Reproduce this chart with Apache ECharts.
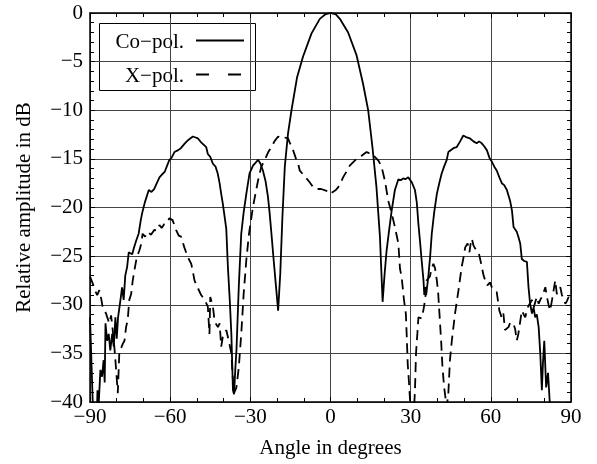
<!DOCTYPE html>
<html>
<head>
<meta charset="utf-8">
<script src="https://cdn.jsdelivr.net/npm/echarts@6/dist/echarts.min.js"></script>
<style>
  html, body { margin: 0; padding: 0; background: #fff; }
  #chart { width: 597px; height: 464px; }
</style>
</head>
<body>
<div id="chart"></div>
<script>
// co-polar pattern (solid)
const coAngles = [-90, -89.6, -89, -88.5, -87.5, -87.2, -86.8, -86.1, -85.5, -84.9, -84.5, -84.2, -83.6, -83, -82.4, -81.7, -81.1, -80.5, -80, -79.5,
  -78.6, -78, -77.4, -76.8, -76.1, -75.5, -74.9, -74.2, -73.6, -72.7, -71.8, -71, -70.5, -69.5, -69, -68, -67, -66, -65, -64,
  -63, -62, -61.5, -60.3, -59.5, -58.4, -57, -56, -55.3, -54.5, -53.4, -52.5, -51.5, -50.5, -49.6, -48.4, -47.8, -46.5, -45.9, -45,
  -44, -43, -42.2, -41.5, -40.9, -40.3, -39.6, -39, -38.4, -37.7, -37.1, -36.5, -36.1, -35.6, -35.2, -34.3, -33.4, -32.5, -31.5, -30.3,
  -29, -27.1, -26.2, -25.3, -24.3, -23.4, -22.8, -22.1, -21.3, -20.5, -19.6, -18.8, -18, -17.1, -15.9, -14.6, -12.5, -10.3, -7.1, -4,
  -2, 0, 2, 3.5, 6.6, 9.7, 12.2, 14.1, 15.7, 17.2, 18.5, 19.5, 20.2, 21, 22, 22.9, 24.1, 25.4, 26.3, 27.2,
  28, 29.1, 30.4, 31.6, 32.3, 32.9, 33.5, 34.1, 34.8, 35.1, 35.4, 35.8, 36.6, 37.3, 37.9, 38.8, 39.8, 40.7, 41.6, 42.5,
  43.5, 44.1, 44.7, 46, 47.2, 48.5, 49.7, 51, 52.2, 53.5, 54.7, 55.6, 56.6, 57.5, 58.5, 59.5, 60.4, 61.3, 62.2, 63.2,
  64.1, 65, 66, 67.2, 67.9, 68.5, 69.7, 70.3, 71, 71.6, 72.5, 73.5, 74.1, 74.7, 75.4, 76, 76.6, 77.2, 77.9, 78.5,
  79.1, 79.5, 80, 80.7, 81.4, 82, 82.5, 90];
const coValues = [-31.3, -34.7, -39.8, -42, -42, -38.8, -40.5, -36.7, -37.4, -35.7, -38, -31.9, -33.7, -33, -34.7, -33, -34.3, -31.3, -33.5, -31.3,
  -29.5, -28.2, -29.5, -27, -26.1, -24.6, -24.4, -24.8, -24.2, -23.4, -22.7, -21.3, -20.6, -19.5, -19.3, -18.2, -18.4, -18.1, -17.5, -16.9,
  -16.6, -16.3, -16.2, -15.1, -14.9, -14.3, -14.1, -13.9, -13.8, -13.4, -13.1, -12.9, -12.7, -12.8, -12.9, -13.3, -13.3, -13.8, -14.5, -14.8,
  -15.5, -15.8, -16.5, -17.5, -18.6, -19.6, -21, -22.2, -26.1, -29.5, -33, -38.8, -39.2, -36.5, -34.7, -28, -22.7, -20.5, -18.6, -16.5,
  -15.7, -15.1, -15.5, -16.2, -17.3, -18.9, -20.5, -22.7, -25.3, -27.8, -30.6, -26.8, -21, -15.8, -12.4, -10, -6.6, -4.5, -2.1, -0.6,
  -0.15, 0, -0.15, -0.6, -2, -4.3, -7.3, -10, -13.8, -17.9, -23, -29.7, -27, -24.4, -22.2, -20.3, -18.2, -17.1, -17.2, -17,
  -17.1, -16.9, -17.4, -18.2, -19.5, -21.7, -23.5, -25.4, -27.5, -29, -28.2, -29, -27.1, -25, -22.7, -20.5, -18.6, -17.5, -16.5, -15.8,
  -15.1, -14.3, -14.3, -13.9, -13.8, -13.2, -12.6, -12.8, -12.9, -13.2, -13.4, -13.2, -13.4, -13.7, -14.1, -14.9, -15.3, -15.8, -16.2, -16.9,
  -17.5, -17.7, -18.2, -19.3, -20.3, -22, -22.5, -23, -23.7, -25.3, -25.5, -25.6, -28.2, -29.9, -30.9, -30.3, -31.3, -31, -32.3, -35,
  -38.8, -36, -33.7, -38.5, -37, -39.8, -42, -42];

// cross-polar pattern (dashed)
const xAngles = [-90, -89.5, -89, -88, -87.3, -86.5, -85.8, -85.3, -84.6, -84, -83.4, -82.8, -82.1, -81.5, -80.9, -80.3, -79.6, -79, -78.3, -77.7,
  -77.1, -76.5, -75.9, -75.3, -74.6, -74, -73.4, -72.5, -71.5, -70.9, -70.3, -69.4, -68.4, -67.2, -65.9, -64.9, -64, -63.2, -62.2, -61.2,
  -60.3, -59.1, -57.8, -56.8, -55.9, -54.7, -53.4, -52.1, -51.5, -50.9, -49.6, -48.4, -47.1, -45.9, -45.3, -45, -44, -43.4, -42.8, -42.1,
  -41.5, -40.9, -40.3, -39.7, -39, -38, -37.1, -36.5, -36.1, -35.2, -34.3, -33.4, -32.5, -31.5, -30.5, -29, -27.1, -25.9, -24.6, -23.3,
  -22.1, -21, -19.6, -18.4, -17.2, -15.9, -15.3, -14, -12.9, -12.1, -11.5, -10.9, -9, -7.8, -6.5, -5.2, -3.5, -1.5, -0.5, 0.3,
  1, 2, 2.9, 3.8, 4.7, 6, 7.2, 7.9, 9.7, 11.5, 13.5, 14.5, 15.4, 16.6, 18, 19.1, 20.4, 21.6, 22.9, 24.1,
  25.4, 26, 26.6, 27.5, 28.2, 28.5, 28.9, 29.4, 29.9, 31, 31.6, 32, 32.5, 32.9, 33.5, 34.1, 34.8, 35.4, 36, 36.6,
  37.2, 37.8, 38.5, 39.1, 39.8, 40.3, 40.7, 41.4, 41.9, 42.5, 42.9, 43.5, 44.1, 44.7, 45.4, 46, 46.6, 47.3, 47.9, 48.5,
  49.1, 49.8, 50.4, 51.3, 52, 52.5, 52.9, 53.5, 54.1, 54.7, 55.4, 56, 56.6, 57.3, 57.9, 58.7, 59.7, 60.5, 61.3, 62.2,
  63.2, 63.7, 64.1, 64.7, 65.3, 66, 66.6, 67.3, 67.9, 68.5, 69.1, 69.7, 70.3, 71, 71.6, 72.3, 72.9, 73.5, 74.1, 74.8,
  75.4, 76, 76.6, 77.2, 77.9, 78.5, 79.4, 80.4, 81, 81.6, 82.2, 82.9, 83.5, 84.1, 84.7, 85.4, 86, 86.6, 87.3, 87.9,
  88.5, 89.1, 90];
const xValues = [-27.1, -27.3, -27.8, -28.6, -29, -28.5, -29.4, -30.2, -30.6, -30.9, -31.4, -31.9, -31.1, -32.6, -34.3, -36.4, -39.1, -34.7, -34.4, -34,
  -33.7, -32.3, -31.6, -29.5, -28.9, -27.5, -26.5, -25.1, -24.4, -23.8, -22.7, -23, -22.5, -22.8, -22.3, -22.4, -21.8, -22.1, -21.7, -21.6,
  -21.1, -21.3, -22.3, -22.9, -23, -24.1, -25.1, -25.8, -26.6, -27.5, -28.3, -29, -29.5, -30.2, -33, -29.2, -30.2, -31.6, -32, -32.3,
  -31.9, -34.3, -33.3, -33.5, -32.6, -33.8, -35, -37.8, -39.1, -38.5, -36.4, -33, -28.9, -25.4, -22.7, -19.9, -17.2, -15.8, -15.1, -14.3,
  -13.8, -13.2, -12.7, -12.9, -12.8, -12.9, -13.3, -14.1, -15, -15.5, -16.2, -16.3, -17, -17.4, -17.9, -18.1, -18.1, -18.3, -18.6, -18.5,
  -18.4, -18.2, -17.9, -17.5, -16.9, -16.3, -15.7, -15.6, -15, -14.7, -14.3, -14.4, -14.4, -14.8, -15.2, -15.8, -17.3, -19.3, -20.6, -22,
  -23.7, -26.3, -27.1, -29.5, -30.9, -33, -36.1, -38.1, -40.5, -42, -38.9, -35, -33, -31.3, -31.5, -31.4, -30.5, -29.5, -27.5, -27.3,
  -27.1, -26.3, -25.8, -26.2, -27.5, -28.8, -30.6, -33.7, -36.4, -38.4, -39.3, -40.5, -39.1, -35.7, -33.7, -32.3, -30.9, -29.6, -28.5, -27.3,
  -26.1, -25.1, -24.1, -23.7, -24.6, -23.6, -23.2, -23.9, -24.2, -24.4, -24.6, -25.3, -26.1, -27, -27.5, -28, -27.7, -28.3, -28.5, -28.7,
  -30.6, -31, -31.4, -30.9, -32.6, -32.4, -32.3, -31.8, -31.6, -32, -32.5, -33.7, -33, -31.7, -30.6, -31, -31.3, -30.5, -30.1, -29.8,
  -29.5, -30.3, -30.1, -29.2, -29.9, -29.5, -29, -28.2, -29.2, -30, -30.6, -29.5, -28.5, -27.5, -28.9, -28.5, -28.2, -29, -29.5, -29.9,
  -29.6, -29.2, -29.5];

const xTicks = { min: -90, max: 90, interval: 30 };
const yTicks = { min: -40, max: 0, interval: 5 };

const font = '"Liberation Serif", "Times New Roman", serif';
const minus = v => String(v).replace('-', '\u2212');

const chart = echarts.init(document.getElementById('chart'));

const baseX = {
  type: 'value',
  min: xTicks.min,
  max: xTicks.max,
  interval: xTicks.interval,
  axisLine: { show: true, onZero: false, lineStyle: { color: '#000', width: 1.5 } },
  axisTick: { show: true, inside: true, length: 5, lineStyle: { color: '#000' } },
  minorTick: { show: true, splitNumber: 3, length: 4, lineStyle: { color: '#000' } },
  splitLine: { show: false }
};
const baseY = {
  type: 'value',
  min: yTicks.min,
  max: yTicks.max,
  interval: yTicks.interval,
  axisLine: { show: true, onZero: false, lineStyle: { color: '#000', width: 1.5 } },
  axisTick: { show: true, inside: true, length: 5, lineStyle: { color: '#000' } },
  minorTick: { show: true, splitNumber: 5, length: 4, lineStyle: { color: '#000' } },
  splitLine: { show: false }
};

const options = {
  animation: false,
  backgroundColor: '#fff',
  grid: { left: 90, right: 26, top: 13, bottom: 62, containLabel: false, outerBoundsMode: 'none' },
  xAxis: [
    Object.assign({}, baseX, {
      position: 'bottom',
      splitLine: { show: true, lineStyle: { color: '#444', width: 1 } },
      axisLabel: { color: '#000', fontFamily: font, fontSize: 21, margin: 5, formatter: minus },
      name: 'Angle in degrees',
      nameLocation: 'middle',
      nameGap: 36,
      nameTextStyle: { color: '#000', fontFamily: font, fontSize: 21 }
    }),
    Object.assign({}, baseX, { position: 'top', axisLabel: { show: false } })
  ],
  yAxis: [
    Object.assign({}, baseY, {
      position: 'left',
      splitLine: { show: true, lineStyle: { color: '#444', width: 1 } },
      axisLabel: { color: '#000', fontFamily: font, fontSize: 21, margin: 7, formatter: minus },
      name: 'Relative amplitude in dB',
      nameLocation: 'middle',
      nameGap: 55,
      nameTextStyle: { color: '#000', fontFamily: font, fontSize: 21 }
    }),
    Object.assign({}, baseY, { position: 'right', axisLabel: { show: false } })
  ],
  series: [
    {
      name: 'Co\u2212pol.',
      type: 'line',
      symbol: 'none',
      clip: true,
      lineStyle: { color: '#000', width: 1.8 },
      data: coAngles.map((a, i) => [a, coValues[i]])
    },
    {
      name: 'X\u2212pol.',
      type: 'line',
      symbol: 'none',
      clip: true,
      lineStyle: { color: '#000', width: 1.8, type: [10, 6] },
      data: xAngles.map((a, i) => [a, xValues[i]])
    }
  ],
  graphic: [
    {
      type: 'group',
      z: 100,
      children: [
        { type: 'rect', shape: { x: 99.5, y: 23.5, width: 156, height: 67 }, style: { fill: '#fff', stroke: '#000', lineWidth: 1 } },
        { type: 'text', x: 184, y: 42, style: { text: 'Co\u2212pol.', font: '21px ' + font, fill: '#000', align: 'right', verticalAlign: 'middle' } },
        { type: 'line', shape: { x1: 196, y1: 40.5, x2: 244, y2: 40.5 }, style: { stroke: '#000', lineWidth: 1.8 } },
        { type: 'text', x: 184, y: 76, style: { text: 'X\u2212pol.', font: '21px ' + font, fill: '#000', align: 'right', verticalAlign: 'middle' } },
        { type: 'line', shape: { x1: 196, y1: 74.5, x2: 244, y2: 74.5 }, style: { stroke: '#000', lineWidth: 1.8, lineDash: [13, 19] } }
      ]
    }
  ]
};

chart.setOption(options);
</script>
</body>
</html>
